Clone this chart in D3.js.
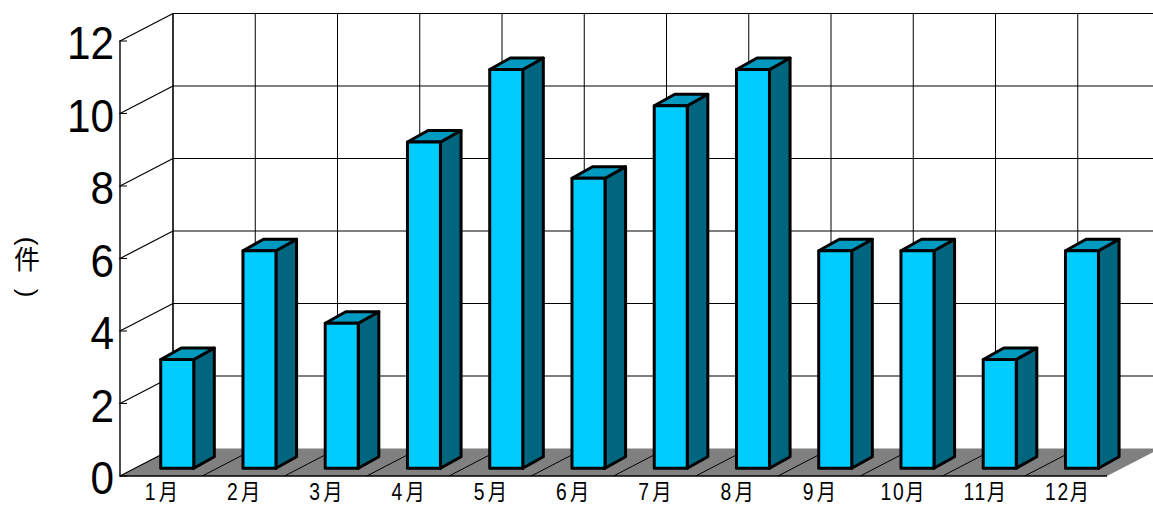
<!DOCTYPE html>
<html>
<head>
<meta charset="utf-8">
<script src="https://cdnjs.cloudflare.com/ajax/libs/d3/7.8.5/d3.min.js"></script>
<style>
html, body { margin: 0; padding: 0; background: #fff; overflow: hidden; }
svg { display: block; }
text { font-family: "Liberation Sans", "Noto Sans CJK JP", sans-serif; fill: #000; }
</style>
</head>
<body>
<div id="chart"></div>
<script>
var months = ["1月", "2月", "3月", "4月", "5月", "6月", "7月", "8月", "9月", "10月", "11月", "12月"];
var counts = [3, 6, 4, 9, 11, 8, 10, 11, 6, 6, 3, 6];
var yTicks = [0, 2, 4, 6, 8, 10, 12];

var svgWidth = 1153;
var svgHeight = 505;

// front plane of the box, the back wall is this shifted by depth
var front = { left: 120, right: 1107, top: 41, bottom: 476 };
var depth = { x: 53, y: -27.5 };
// bars stand a little way into the floor
var barOffset = { x: 16.1, y: -7.8 };
var barDepth = { x: 20.6, y: -11.5 };

var svg = d3.select("#chart").append("svg")
    .attr("width", svgWidth)
    .attr("height", svgHeight);

var xScale = d3.scaleBand().domain(months).range([front.left, front.right]);
var yScale = d3.scaleLinear().domain([0, 12]).range([front.bottom, front.top]);
var barWidth = 33;

function poly(points) {
    return points.map(d => d.join(",")).join(" ");
}

// floor
svg.append("polygon")
    .attr("points", poly([
        [front.left, front.bottom],
        [front.right, front.bottom],
        [front.right + depth.x, front.bottom + depth.y],
        [front.left + depth.x, front.bottom + depth.y]
    ]))
    .attr("fill", "#808080");

// back wall horizontal lines and left wall diagonals
var grid = svg.append("g").attr("stroke", "#000").attr("fill", "none");
yTicks.forEach(function(t) {
    var y = yScale(t);
    grid.append("line")
        .attr("x1", front.left + depth.x).attr("x2", svgWidth)
        .attr("y1", y + depth.y).attr("y2", y + depth.y)
        .attr("stroke-width", t === 0 ? 0 : 1.2);
    grid.append("line")
        .attr("x1", front.left).attr("y1", y)
        .attr("x2", front.left + depth.x).attr("y2", y + depth.y)
        .attr("stroke-width", 1.2);
    // small tick
    grid.append("line")
        .attr("x1", front.left - 1).attr("x2", front.left + 7)
        .attr("y1", y).attr("y2", y)
        .attr("stroke-width", 1);
});

// back wall verticals and floor diagonals
months.forEach(function(m, i) {
    var x = xScale(m);
    grid.append("line")
        .attr("x1", x + depth.x).attr("x2", x + depth.x)
        .attr("y1", yScale(12) + depth.y).attr("y2", yScale(0) + depth.y)
        .attr("stroke-width", i === 0 ? 1.6 : 1);
    if (i > 0) {
        grid.append("line")
            .attr("x1", x).attr("y1", front.bottom)
            .attr("x2", x + depth.x).attr("y2", front.bottom + depth.y)
            .attr("stroke-width", 1);
    }
});

// axis lines
grid.append("line")
    .attr("x1", front.left).attr("x2", front.left)
    .attr("y1", front.top).attr("y2", front.bottom)
    .attr("stroke-width", 1.4);
grid.append("line")
    .attr("x1", front.left).attr("x2", front.right)
    .attr("y1", front.bottom).attr("y2", front.bottom)
    .attr("stroke-width", 1.4);

// bars: side, top, front
var bars = svg.selectAll("g.bar")
    .data(counts)
    .enter()
    .append("g")
    .attr("class", "bar")
    .attr("stroke", "#000")
    .attr("stroke-width", 3)
    .attr("stroke-linejoin", "round");

function barLeft(d, i) {
    return xScale(months[i]) + (xScale.bandwidth() - barWidth) / 2 + barOffset.x;
}

bars.append("polygon")
    .attr("fill", "#006680")
    .attr("points", function(d, i) {
        var r = barLeft(d, i) + barWidth;
        var top = yScale(d) + barOffset.y;
        var bottom = yScale(0) + barOffset.y;
        return poly([
            [r, top],
            [r + barDepth.x, top + barDepth.y],
            [r + barDepth.x, bottom + barDepth.y],
            [r, bottom]
        ]);
    });

bars.append("polygon")
    .attr("fill", "#0099bf")
    .attr("points", function(d, i) {
        var l = barLeft(d, i);
        var top = yScale(d) + barOffset.y;
        return poly([
            [l, top],
            [l + barDepth.x, top + barDepth.y],
            [l + barWidth + barDepth.x, top + barDepth.y],
            [l + barWidth, top]
        ]);
    });

bars.append("rect")
    .attr("fill", "#00ccff")
    .attr("x", barLeft)
    .attr("y", d => yScale(d) + barOffset.y)
    .attr("width", barWidth)
    .attr("height", d => yScale(0) - yScale(d));

// y labels, a bit narrower than the plain font
svg.selectAll("text.ylabel")
    .data(yTicks)
    .enter()
    .append("text")
    .attr("class", "ylabel")
    .attr("text-anchor", "end")
    .attr("font-size", 47)
    .attr("transform", d => `translate(114, ${yScale(d) + 18}) scale(0.9, 1)`)
    .text(d => d);

// month labels, squeezed horizontally like the original
svg.selectAll("text.xlabel")
    .data(months)
    .enter()
    .append("text")
    .attr("class", "xlabel")
    .attr("text-anchor", "middle")
    .attr("font-size", 23)
    .attr("letter-spacing", d => d.length === 2 ? 4 : 2)
    .attr("transform", d => `translate(${xScale(d) + xScale.bandwidth() / 2 + 2}, 499.5) scale(0.84, 1)`)
    .text(d => d);

// y title, vertical with the brackets turned
svg.append("text")
    .attr("text-anchor", "middle")
    .attr("font-size", 26)
    .attr("x", 27).attr("y", 269)
    .text("件");
svg.append("text")
    .attr("text-anchor", "middle")
    .attr("font-size", 26)
    .attr("transform", "translate(19, 241) rotate(90)")
    .text("(");
svg.append("text")
    .attr("text-anchor", "middle")
    .attr("font-size", 26)
    .attr("transform", "translate(19, 293) rotate(90)")
    .text(")");
</script>
</body>
</html>
